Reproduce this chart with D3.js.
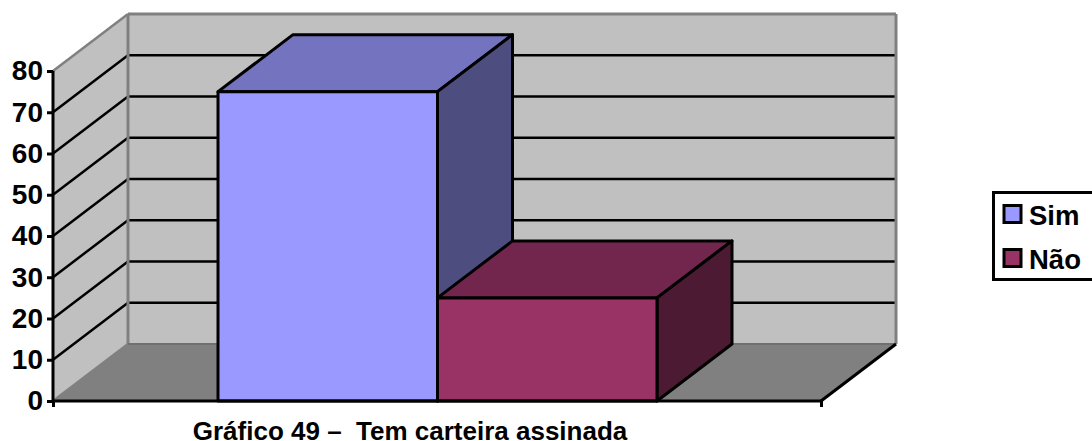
<!DOCTYPE html>
<html>
<head>
<meta charset="utf-8">
<script src="https://cdn.jsdelivr.net/npm/d3@7"></script>
<style>
  html, body { margin: 0; padding: 0; background: #fff; overflow: hidden; }
  text { font-family: "Liberation Sans", Arial, sans-serif; font-weight: bold; fill: #000; }
</style>
</head>
<body>
<script>
var
  seriesNames = ['Sim', 'Não'],
  seriesValues = [75, 25],
  frontColors = ['#9999ff', '#993366'],
  topColors = ['#7373bf', '#73264d'],
  sideColors = ['#4d4d80', '#4d1a33'],
  yTicks = [0, 10, 20, 30, 40, 50, 60, 70, 80],
  chartTitle = 'Gráfico 49 –  Tem carteira assinada',

  config = {
    w: 1092,
    h: 441,
    left: 53,
    right: 821,
    bottom: 401,
    top: 71,
    depthX: 75,
    depthY: -57
  },

  svg = d3.select('body').append('svg')
    .attr('width', config.w)
    .attr('height', config.h),

  y = d3.scaleLinear().domain([0, 80]).range([config.bottom, config.top]),
  edge = d3.scaleLinear().domain([0, 1]).range([config.left, config.right]),
  x = d3.scaleBand().domain(seriesNames).range([218, 657]),

  // shift a front point to the back of the box
  back = function back(p) {
    return [p[0] + config.depthX, p[1] + config.depthY];
  },

  poly = function poly(points, fill, stroke, width) {
    svg.append('polygon')
      .attr('points', points.join(' '))
      .attr('fill', fill)
      .attr('stroke', stroke || 'none')
      .attr('stroke-width', width || 0)
      .attr('stroke-linejoin', 'round');
  },

  seg = function seg(a, b, stroke, width) {
    svg.append('line')
      .attr('x1', a[0]).attr('y1', a[1])
      .attr('x2', b[0]).attr('y2', b[1])
      .attr('stroke', stroke)
      .attr('stroke-width', width);
  },

  drawWalls = function drawWalls() {
    var
      fl = config.left,
      fr = config.right,
      y0 = y(0),
      yMax = y(80);

    // floor
    poly([[fl, y0], back([fl, y0]), back([fr, y0]), [fr, y0]], '#808080');
    // side and back wall
    poly([[fl, y0], [fl, yMax], back([fl, yMax]), back([fl, y0])], '#c0c0c0');
    poly([back([fl, y0]), back([fl, yMax]), back([fr, yMax]), back([fr, y0])], '#c0c0c0');

    yTicks.slice(1, -1).forEach(function (t) {
      seg([fl, y(t)], back([fl, y(t)]), '#000', 2.5);
      seg(back([fl, y(t)]), back([fr, y(t)]), '#000', 2.5);
    });

    seg([fl, yMax], back([fl, yMax]), '#808080', 2.5);
    seg(back([fl, yMax]), back([fr, yMax]), '#808080', 3);
    seg(back([fl, yMax]), back([fl, y0]), '#808080', 3);
    seg(back([fr, yMax]), back([fr, y0]), '#808080', 3);
    seg([fl, y0], back([fl, y0]), '#808080', 2.5);
    seg(back([fl, y0]), back([fr, y0]), '#707070', 2);
    seg([fr, y0], back([fr, y0]), '#000', 3);
  },

  drawBars = function drawBars() {
    seriesNames.forEach(function (name, i) {
      var
        x0 = x(name),
        x1 = x0 + x.bandwidth(),
        yTop = y(seriesValues[i]),
        yBase = y(0);

      poly([[x0, yTop], back([x0, yTop]), back([x1, yTop]), [x1, yTop]], topColors[i], '#000', 3);
      poly([[x1, yTop], back([x1, yTop]), back([x1, yBase]), [x1, yBase]], sideColors[i], '#000', 3);
      poly([[x0, yTop], [x1, yTop], [x1, yBase], [x0, yBase]], frontColors[i], '#000', 3);
    });
  },

  drawAxes = function drawAxes() {
    var
      yAxis = d3.axisLeft(y).tickValues(yTicks).tickSize(6).tickPadding(4),
      xAxis = d3.axisBottom(edge).tickValues([0, 1]).tickSize(6).tickFormat(''),
      gy = svg.append('g').attr('transform', 'translate(' + config.left + ',0)').call(yAxis),
      gx = svg.append('g').attr('transform', 'translate(0,' + config.bottom + ')').call(xAxis);

    gy.selectAll('path, line').attr('stroke', '#000').attr('stroke-width', 3);
    gx.selectAll('path, line').attr('stroke', '#000').attr('stroke-width', 3);
    gy.selectAll('text').attr('font-size', 28).attr('fill', '#000');
    gy.selectAll('.domain').attr('d', 'M0,' + config.top + 'V' + config.bottom);
    gx.selectAll('.domain').attr('d', 'M' + config.left + ',0H' + config.right);
  },

  drawLegend = function drawLegend() {
    var g = svg.append('g');

    g.append('rect')
      .attr('x', 993.5).attr('y', 192.5)
      .attr('width', 110).attr('height', 87)
      .attr('fill', '#fff').attr('stroke', '#000').attr('stroke-width', 3);

    seriesNames.forEach(function (name, i) {
      g.append('rect')
        .attr('x', 1004).attr('y', 205.5 + i * 44)
        .attr('width', 17).attr('height', 17)
        .attr('fill', frontColors[i]).attr('stroke', '#000').attr('stroke-width', 3);
      g.append('text')
        .attr('x', 1029).attr('y', 225 + i * 43.5)
        .attr('font-size', 27.5)
        .text(name);
    });
  },

  init = function init() {
    drawWalls();
    drawBars();
    drawAxes();
    drawLegend();

    svg.append('text')
      .attr('x', 410).attr('y', 440)
      .attr('text-anchor', 'middle')
      .attr('font-size', 26)
      .style('white-space', 'pre')
      .text(chartTitle);
  };

init();
</script>
</body>
</html>
